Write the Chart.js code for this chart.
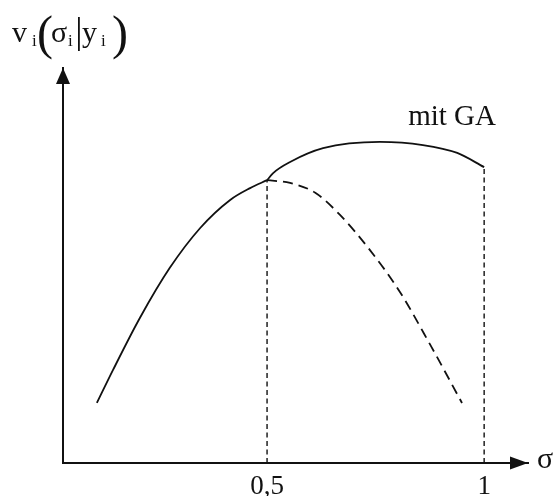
<!DOCTYPE html>
<html>
<head>
<meta charset="utf-8">
<script src="https://cdn.jsdelivr.net/npm/chart.js@4"></script>
<style>
html,body{margin:0;padding:0;background:#fff;}
#wrap{width:557px;height:496px;position:relative;}
</style>
</head>
<body>
<div id="wrap"><canvas id="c" width="557" height="496"></canvas></div>
<script>
// ---- data (sigma, v) ----
const leftX   = [0.108, 0.145, 0.207, 0.276, 0.346, 0.415, 0.461, 0.500];
const leftY   = [0.152, 0.235, 0.367, 0.494, 0.595, 0.666, 0.696, 0.716];
const gaX     = [0.500, 0.514, 0.553, 0.629, 0.760, 0.859, 0.938, 1.000];
const gaY     = [0.716, 0.734, 0.762, 0.797, 0.813, 0.805, 0.785, 0.749];
const dashX   = [0.500, 0.553, 0.611, 0.668, 0.737, 0.806, 0.876, 0.949];
const dashY   = [0.716, 0.709, 0.684, 0.628, 0.539, 0.433, 0.299, 0.152];
const tickValues = [0.5, 1];
const tickLabels = ['0,5', '1'];
const curveLabel = 'mit GA';

const pts = (xs, ys) => xs.map((x, i) => ({x, y: ys[i]}));
const vline1 = [{x: tickValues[0], y: 0}, {x: gaX[0], y: gaY[0]}];
const vline2 = [{x: tickValues[1], y: 0}, {x: gaX[gaX.length-1], y: gaY[gaY.length-1]}];

const INK = '#111';
const SERIF = '"Liberation Serif", "DejaVu Serif", serif';

const decor = {
  id: 'decor',
  afterDraw(chart) {
    const ctx = chart.ctx, a = chart.chartArea;
    const xs = chart.scales.x;
    ctx.save();
    ctx.fillStyle = INK;
    // y arrow
    ctx.beginPath();
    ctx.moveTo(a.left, a.top);
    ctx.lineTo(a.left - 7, a.top + 16);
    ctx.lineTo(a.left + 7, a.top + 16);
    ctx.closePath(); ctx.fill();
    // x arrow
    ctx.beginPath();
    ctx.moveTo(a.right, a.bottom);
    ctx.lineTo(a.right - 18, a.bottom - 6.5);
    ctx.lineTo(a.right - 18, a.bottom + 6.5);
    ctx.closePath(); ctx.fill();
    // sigma label
    ctx.font = '30px ' + SERIF;
    ctx.textBaseline = 'alphabetic';
    ctx.textAlign = 'left';
    ctx.fillText('σ', a.right + 9, a.bottom + 5);
    // curve label
    ctx.font = '29px ' + SERIF;
    ctx.textAlign = 'left';
    ctx.fillText(curveLabel, xs.getPixelForValue(0.825), 125);
    // y-axis title  v_i(σ_i|y_i)
    ctx.textAlign = 'left';
    ctx.font = '30px ' + SERIF;
    ctx.fillText('v', 12, 42);
    ctx.font = '17px ' + SERIF;
    ctx.fillText('i', 32, 46);
    ctx.font = '48px ' + SERIF;
    ctx.fillText('(', 37, 49);
    ctx.font = '30px ' + SERIF;
    ctx.fillText('σ', 51, 42);
    ctx.font = '17px ' + SERIF;
    ctx.fillText('i', 68, 46);
    ctx.fillRect(78, 17, 1.8, 34);
    ctx.font = '30px ' + SERIF;
    ctx.fillText('y', 82, 42);
    ctx.font = '17px ' + SERIF;
    ctx.fillText('i', 101, 46);
    ctx.font = '48px ' + SERIF;
    ctx.fillText(')', 112, 49);
    ctx.restore();
  }
};

const solid = {borderColor: INK, borderWidth: 1.8, pointRadius: 0, fill: false, cubicInterpolationMode: 'monotone'};

new Chart(document.getElementById('c'), {
  type: 'line',
  data: {
    datasets: [
      Object.assign({data: pts(leftX, leftY)}, solid),
      Object.assign({data: pts(gaX, gaY)}, solid),
      Object.assign({data: pts(dashX, dashY)}, solid, {borderDash: [10, 6], borderWidth: 1.8}),
      {data: vline1, borderColor: INK, borderWidth: 1.4, borderDash: [5, 3.5], pointRadius: 0, tension: 0},
      {data: vline2, borderColor: INK, borderWidth: 1.4, borderDash: [5, 3.5], pointRadius: 0, tension: 0}
    ]
  },
  options: {
    responsive: false,
    animation: false,
    events: [],
    layout: {padding: {top: 68, right: 29, left: 0, bottom: 0}},
    plugins: {legend: {display: false}, tooltip: {enabled: false}},
    scales: {
      x: {
        type: 'linear', min: 0.03, max: 1.101,
        grid: {display: false, drawTicks: false},
        border: {display: true, color: INK, width: 2},
        afterBuildTicks: s => { s.ticks = tickValues.map(v => ({value: v})); },
        afterFit: s => { s.height = 33; },
        ticks: {
          color: INK, padding: 8, maxRotation: 0, autoSkip: false,
          font: {family: SERIF, size: 27},
          callback: (v) => { const i = tickValues.indexOf(v); return i >= 0 ? tickLabels[i] : ''; }
        }
      },
      y: {
        type: 'linear', min: 0, max: 1,
        grid: {display: false, drawTicks: false},
        border: {display: true, color: INK, width: 2},
        ticks: {display: false},
        afterFit: s => { s.width = 63; }
      }
    }
  },
  plugins: [decor]
});
</script>
</body>
</html>
